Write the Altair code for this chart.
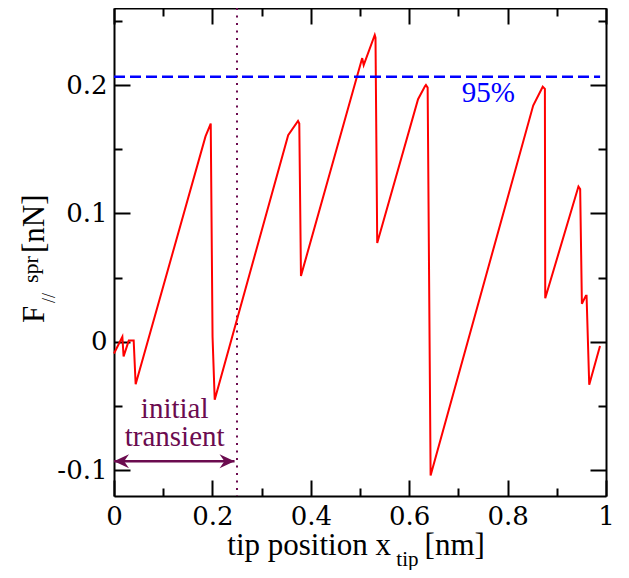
import altair as alt
import pandas as pd

# ---- data ----
x_pos = [0.000, 0.017, 0.0195, 0.030, 0.040, 0.044, 0.186, 0.1966, 0.2003, 0.2047,
         0.354, 0.374, 0.3766, 0.380, 0.5045, 0.5075, 0.530, 0.5315, 0.535,
         0.618, 0.632, 0.634, 0.6375, 0.6435, 0.852, 0.8714, 0.8758, 0.8765,
         0.944, 0.9475, 0.951, 0.9591, 0.9605, 0.9659, 0.9878]
force = [-0.009, 0.004, -0.0114, 0.001, 0.001, -0.033, 0.160, 0.170, 0.004, -0.045,
         0.161, 0.172, 0.170, 0.0514, 0.221, 0.2155, 0.239, 0.237, 0.077,
         0.189, 0.199, 0.200, 0.198, -0.104, 0.184, 0.1987, 0.197, 0.034,
         0.121, 0.119, 0.0297, 0.036, 0.036, -0.0333, -0.0032]

x_major = [0, 0.2, 0.4, 0.6, 0.8, 1.0]
x_minor = [0.1, 0.3, 0.5, 0.7, 0.9]
y_major = [-0.1, 0, 0.1, 0.2]
y_minor = [-0.05, 0.05, 0.15, 0.25]

threshold_y = [0.2064]
threshold_x = [0.0]
threshold_x2 = [0.988]
transient_end = [0.25]
arrow_y = [-0.0929]
arrow_x = [0.0]
arrow_x2 = [0.245]

ann_text = ["95%", "initial", "transient"]
ann_x = [0.7608, 0.1233, 0.1233]
ann_y = [0.1869, -0.059, -0.0813]

W, H = 492, 488
FONT_A = "DejaVu Serif"
FONT_B = "Times New Roman"
FONT_C = "serif"
MAROON = "#6b0b4f"

xscale = alt.Scale(domain=[0, 1], nice=False, zero=False)
yscale = alt.Scale(domain=[-0.12, 0.26], nice=False, zero=False)

df = pd.DataFrame({"x": x_pos, "y": force, "i": list(range(len(x_pos)))})
anchor = pd.DataFrame({"x": [0.5], "y": [0.0]})
one = pd.DataFrame({"a": [0]})

lab_x = alt.Axis(orient="bottom", values=x_major, ticks=False, domain=False, grid=False,
                 labelFont=FONT_A, labelFontSize=26, labelColor="black", labelPadding=7,
                 labelExpr="'' + datum.value", labelFlush=False, labelOverlap=False, title=None)
lab_y = alt.Axis(orient="left", values=y_major, ticks=False, domain=False, grid=False,
                 labelFont=FONT_A, labelFontSize=26, labelColor="black", labelPadding=7,
                 labelExpr="'' + datum.value", labelOverlap=False, title=None)

line = alt.Chart(df).mark_line(color="#ff0000", strokeWidth=2).encode(
    x=alt.X("x:Q", scale=xscale, axis=lab_x),
    y=alt.Y("y:Q", scale=yscale, axis=lab_y),
    order="i:Q",
)


def tick_layer(xorient, xvals, yorient, yvals, size, domain):
    common = dict(labels=False, domain=domain, domainColor="black", domainWidth=2,
                  grid=False, title=None, tickSize=size, tickWidth=2, tickColor="black")
    return alt.Chart(anchor).mark_point(opacity=0).encode(
        x=alt.X("x:Q", scale=xscale, axis=alt.Axis(orient=xorient, offset=-H, values=xvals, **common)),
        y=alt.Y("y:Q", scale=yscale, axis=alt.Axis(orient=yorient, offset=-W, values=yvals, **common)),
    )


ticks = [
    tick_layer("top", x_major, "right", y_major, 16, True),
    tick_layer("top", x_minor, "right", y_minor, 8, False),
    tick_layer("bottom", x_major, "left", y_major, 16, True),
    tick_layer("bottom", x_minor, "left", y_minor, 8, False),
]

vline = alt.Chart(pd.DataFrame({"x": transient_end})).mark_rule(
    color=MAROON, strokeWidth=2, strokeDash=[2, 5.5]
).encode(x=alt.X("x:Q", scale=xscale, axis=None))

hline = alt.Chart(pd.DataFrame({"x": threshold_x, "x2": threshold_x2, "y": threshold_y})).mark_rule(
    color="#0000ff", strokeWidth=2.5, strokeDash=[11, 5]
).encode(
    x=alt.X("x:Q", scale=xscale, axis=None), x2="x2:Q",
    y=alt.Y("y:Q", scale=yscale, axis=None),
)

arrow_df = pd.DataFrame({"x": arrow_x, "x2": arrow_x2, "y": arrow_y})
arrow_line = alt.Chart(arrow_df).mark_rule(color=MAROON, strokeWidth=2.5).encode(
    x=alt.X("x:Q", scale=xscale, axis=None), x2="x2:Q",
    y=alt.Y("y:Q", scale=yscale, axis=None),
)
head_l = alt.Chart(arrow_df).mark_point(
    shape="M0,0L2,-0.93L1.35,0L2,0.93Z", size=225, filled=True, color=MAROON, opacity=1, strokeWidth=0
).encode(x=alt.X("x:Q", scale=xscale, axis=None), y=alt.Y("y:Q", scale=yscale, axis=None))
head_r = alt.Chart(arrow_df).mark_point(
    shape="M0,0L-2,-0.93L-1.35,0L-2,0.93Z", size=225, filled=True, color=MAROON, opacity=1, strokeWidth=0
).encode(x=alt.X("x2:Q", scale=xscale, axis=None), y=alt.Y("y:Q", scale=yscale, axis=None))

ann_df = pd.DataFrame({"x": ann_x, "y": ann_y, "t": ann_text,
                       "c": ["#0000ff", MAROON, MAROON]})
ann = alt.Chart(ann_df).mark_text(font=FONT_C, fontSize=29, align="center", baseline="alphabetic").encode(
    x=alt.X("x:Q", scale=xscale, axis=None),
    y=alt.Y("y:Q", scale=yscale, axis=None),
    text="t:N",
    color=alt.Color("c:N", scale=None),
)


def txt(s, px, py, size, angle=0):
    kw = dict(text=s, font=FONT_B, fontSize=size, color="black", align="left", baseline="alphabetic")
    if angle:
        kw["angle"] = angle
    return alt.Chart(one).mark_text(**kw).encode(x=alt.value(px), y=alt.value(py))


titles = [
    txt("tip position x", 113.3, 547, 31),
    txt("tip", 282.3, 558, 21),
    txt("[nm]", 310.6, 547, 31),
    txt("F", -70.4, 315, 31, 270),
    txt("//", -59.4, 295, 18, 270),
    txt("spr", -76.4, 275, 22, 270),
    txt("[nN]", -70.4, 245, 31, 270),
]

chart = alt.layer(
    *ticks, vline, line, hline, arrow_line, head_l, head_r, ann, *titles
).resolve_axis(x="independent", y="independent").properties(
    width=W, height=H,
    autosize=alt.AutoSizeParams(type="none"),
    padding={"left": 106, "top": 0, "right": 8, "bottom": 74},
).configure_view(stroke=None).configure(background="white")

chart.save("out.html", embed_options={"renderer": "svg", "actions": False})
